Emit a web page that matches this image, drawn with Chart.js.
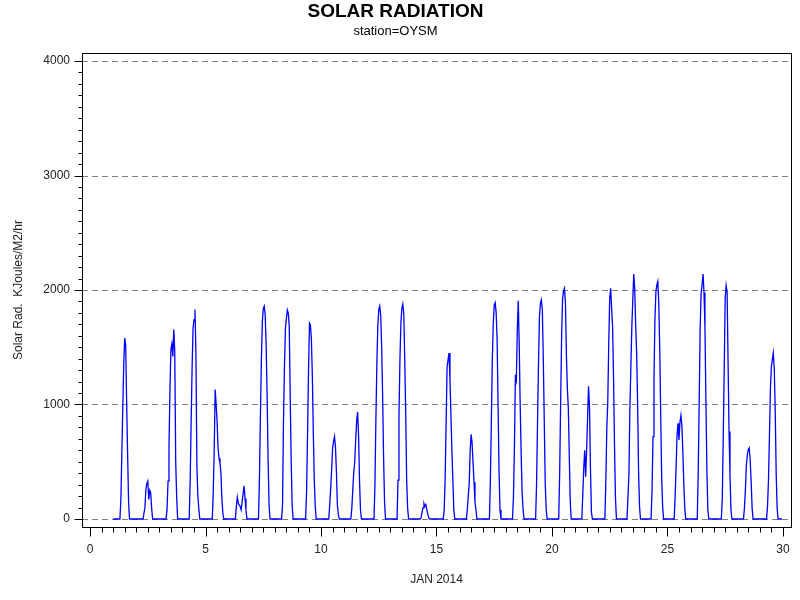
<!DOCTYPE html>
<html>
<head>
<meta charset="utf-8">
<script src="https://cdn.jsdelivr.net/npm/chart.js"></script>
<style>
  html, body { margin: 0; padding: 0; background: #fff; }
  canvas { display: block; }
</style>
</head>
<body>
<canvas id="chart" width="800" height="600"></canvas>
<script>
// hourly readings for each day of Jan 2014, first value is 07:00, other hours are 0
const firstHour = 7;
const day01 = [0, 170, 570, 980, 1360, 1580, 1520, 1010, 570, 150];
const day02 = [0, 0, 100, 260, 310, 330, 170, 250, 230, 90];
const day03 = [0, 90, 330, 630, 1120, 1480, 1530, 1420, 1655, 1460, 490, 190];
const day04 = [0, 330, 835, 1315, 1665, 1740, 1830, 1450, 460, 200, 90];
const day05 = [0, 240, 600, 1130, 1000, 850, 620, 530, 490, 400, 170, 50];
const day06 = [0, 110, 190, 140, 120, 110, 80, 150, 220, 290, 180, 80];
const day07 = [0, 355, 890, 1380, 1720, 1840, 1860, 1780, 1505, 1070, 515, 120];
const day08 = [0, 120, 865, 1330, 1665, 1750, 1825, 1795, 1680, 1055, 500, 120];
const day09 = [0, 0, 240, 750, 1290, 1710, 1695, 1565, 1245, 750, 340, 110];
const day10 = [0, 0, 115, 260, 430, 615, 675, 720, 630, 415, 120, 40];
const day11 = [0, 95, 255, 405, 495, 685, 850, 935, 735, 335, 80];
const day12 = [0, 280, 860, 1345, 1680, 1830, 1860, 1780, 1510, 1085, 545, 150];
const day13 = [0, 340, 895, 1390, 1710, 1840, 1878, 1795, 1390, 935, 340, 95];
const day14 = [0, 10, 60, 100, 135, 110, 125, 80, 40, 10];
const day15 = [0, 80, 355, 835, 1330, 1390, 1450, 1215, 910, 600, 340, 80];
const day16 = [0, 80, 200, 310, 600, 740, 660, 490, 320, 150, 80];
const day17 = [0, 345, 850, 1390, 1710, 1870, 1890, 1800, 1565, 995, 415, 80];
const day18 = [0, 200, 630, 1260, 1215, 1670, 1905, 1505, 980, 560, 225, 80];
const day19 = [0, 310, 850, 1360, 1770, 1885, 1915, 1825, 1390, 850, 310, 80];
const day20 = [0, 400, 1010, 1580, 1920, 1990, 2015, 1885, 1430, 1140, 970, 545, 150];
const day21 = [0, 210, 440, 600, 370, 600, 880, 1160, 980, 440, 60];
const day22 = [0, 340, 795, 1025, 1535, 1930, 2015, 1840, 1680, 1230, 630, 180];
const day23 = [0, 400, 980, 1330, 1680, 1915, 2140, 2010, 1695, 1450, 1010, 415, 110];
const day24 = [0, 255, 720, 1230, 1740, 1985, 2045, 2075, 1885, 1490, 910, 370, 110];
const day25 = [0, 195, 455, 735, 835, 690, 845, 905, 820, 590, 310, 95];
const day26 = [0, 415, 1025, 1665, 1975, 2045, 2140, 1975, 1665, 1025, 415, 80];
const day27 = [0, 0, 180, 720, 1300, 1930, 2040, 1980, 1375, 765, 385, 80];
const day28 = [0, 95, 255, 470, 560, 605, 620, 515, 325, 95];
const day29 = [0, 110, 340, 720, 1140, 1330, 1390, 1450, 1315, 955, 400, 95];

const days = [day01, day02, day03, day04, day05, day06, day07, day08, day09, day10,
  day11, day12, day13, day14, day15, day16, day17, day18, day19, day20,
  day21, day22, day23, day24, day25, day26, day27, day28, day29];

const xTicks = [0, 5, 10, 15, 20, 25, 30];
const yTicks = [0, 1000, 2000, 3000, 4000];

// turn the day lists into (day + hour/24, value) points
const points = [];
days.forEach((vals, i) => {
  for (let h = 0; h < 24; h++) {
    const k = h - firstHour;
    points.push({ x: i + 1 + h / 24, y: (k >= 0 && k < vals.length) ? vals[k] : 0 });
  }
});

// dashed grid, frame and tick marks drawn the SAS way
const axesPlugin = {
  id: 'sasAxes',
  beforeDatasetsDraw(chart) {
    const { ctx, chartArea: a, scales: { y } } = chart;
    ctx.save();
    ctx.strokeStyle = '#808080';
    ctx.lineWidth = 1;
    ctx.setLineDash([6, 4]);
    yTicks.forEach(v => {
      const py = Math.round(y.getPixelForValue(v)) + 0.5;
      ctx.beginPath();
      ctx.moveTo(a.left, py);
      ctx.lineTo(a.right, py);
      ctx.stroke();
    });
    ctx.restore();
  },
  afterDatasetsDraw(chart) {
    const { ctx, chartArea: a, scales: { x, y } } = chart;
    ctx.save();
    ctx.strokeStyle = '#000';
    ctx.lineWidth = 1;
    const l = Math.round(a.left) + 0.5, r = Math.round(a.right) + 0.5;
    const t = Math.round(a.top) + 0.5, b = Math.round(a.bottom) + 0.5;
    ctx.strokeRect(l, t, r - l, b - t);
    ctx.beginPath();
    for (let v = 0; v <= 30; v += 0.5) {
      const px = Math.round(x.getPixelForValue(v)) + 0.5;
      const len = (v % 5 === 0) ? 9 : 5;
      ctx.moveTo(px, b);
      ctx.lineTo(px, b + len);
    }
    for (let v = 0; v <= 4000; v += 100) {
      const py = Math.round(y.getPixelForValue(v)) + 0.5;
      const len = (v % 1000 === 0) ? 8 : 4;
      ctx.moveTo(l, py);
      ctx.lineTo(l - len, py);
    }
    ctx.stroke();
    ctx.restore();
  }
};

Chart.defaults.font.family = "'Liberation Sans', Arial, sans-serif";
Chart.defaults.font.size = 12;
Chart.defaults.color = '#222';

new Chart(document.getElementById('chart'), {
  type: 'line',
  data: {
    datasets: [{
      label: 'Solar Rad.',
      data: points,
      borderColor: '#0000ff',
      borderWidth: 1.3,
      pointRadius: 0,
      tension: 0,
      fill: false
    }]
  },
  options: {
    responsive: false,
    animation: false,
    layout: { padding: { top: 0, right: 9, bottom: 0, left: 0 } },
    plugins: {
      legend: { display: false },
      tooltip: { enabled: false },
      title: {
        display: true,
        text: 'SOLAR RADIATION',
        color: '#000',
        font: { size: 19, weight: 'bold', lineHeight: 1.1 },
        padding: { top: 1, bottom: 0 }
      },
      subtitle: {
        display: true,
        text: 'station=OYSM',
        color: '#000',
        font: { size: 13 },
        padding: { top: 1.5, bottom: 14 }
      }
    },
    scales: {
      x: {
        type: 'linear',
        min: -0.35,
        max: 30.35,
        afterBuildTicks: s => { s.ticks = xTicks.map(v => ({ value: v })); },
        afterFit: s => { s.height = 73; s.paddingLeft = 0; s.paddingRight = 0; },
        grid: { display: false, drawTicks: false },
        border: { display: false },
        ticks: { padding: 15, maxRotation: 0, callback: v => String(v) },
        title: { display: true, text: 'JAN 2014', color: '#222', padding: { top: 0, bottom: 13 } }
      },
      y: {
        min: -70,
        max: 4070,
        afterBuildTicks: s => { s.ticks = yTicks.map(v => ({ value: v })); },
        afterFit: s => { s.width = 82; s.paddingTop = 0; s.paddingBottom = 0; },
        grid: { display: false, drawTicks: false },
        border: { display: false },
        ticks: { padding: 12, callback: v => String(v) },
        title: { display: true, text: 'Solar Rad.  KJoules/M2/hr', color: '#222', padding: { top: 11, bottom: 0 } }
      }
    }
  },
  plugins: [axesPlugin]
});
</script>
</body>
</html>
